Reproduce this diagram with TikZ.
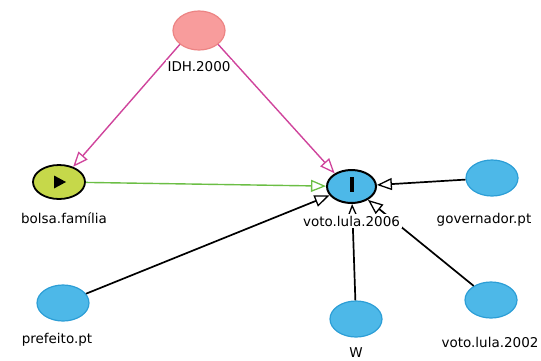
\documentclass[tikz,border=0pt]{standalone}
\usepackage{fontspec}
\setmainfont{DejaVu Sans}
\usetikzlibrary{shapes.geometric,arrows.meta}
\definecolor{pinkfill}{HTML}{F89C9C}
\definecolor{pinkdraw}{HTML}{EC8484}
\definecolor{bluefill}{HTML}{4DB8E8}
\definecolor{bluedraw}{HTML}{2C9ED6}
\definecolor{limefill}{HTML}{C6D84A}
\definecolor{magline}{HTML}{CF449C}
\definecolor{greenline}{HTML}{6BBE45}
\tikzset{
  var/.style={ellipse, minimum width=52pt, minimum height=36pt, inner sep=0pt, line width=1.2pt},
  latent/.style={var, fill=pinkfill, draw=pinkdraw, minimum height=39pt},
  covar/.style={var, fill=bluefill, draw=bluedraw},
  expo/.style={var, fill=limefill, draw=black, line width=1.8pt, minimum height=34pt},
  outc/.style={var, fill=bluefill, draw=black, line width=2pt, minimum width=49pt, minimum height=33pt},
  lbl/.style={fill=white, inner sep=2pt, font=\fontsize{13.5}{15}\selectfont},
  tip/.style={-{Triangle[open, length=15pt, width=12pt, line width=1.3pt]}},
  edge/.style={tip, line width=1.4pt},
  bedge/.style={tip, line width=1.7pt, black},
}
\begin{document}
\begin{tikzpicture}[x=1pt, y=-1pt]
\useasboundingbox (0,0) rectangle (541,360);
\clip (0,0) rectangle (541,360);

% variables
\node[latent] (idh) at (199,30.5) {};
\node[expo] (bolsa) at (59,182) {};
\node[outc] (voto06) at (351.5,186.5) {};
\node[covar] (gov) at (492,178) {};
\node[covar] (pref) at (63,303) {};
\node[covar] (w) at (356,319) {};
\node[covar] (voto02) at (491,300) {};

% exposure and outcome markers
\fill (54,175.5) -- (54,188.5) -- (66,182) -- cycle;
\fill (350,177) rectangle (354,192);

% directed edges
\draw[edge, magline] (idh.216) -- (bolsa.47);
\draw[edge, magline] (idh.324) -- (voto06.142);
\draw[edge, greenline] (bolsa) -- (voto06);
\draw[bedge] (gov) -- (voto06);
\draw[bedge] (pref) -- (voto06);
\draw[bedge] (w) -- (voto06);
\draw[bedge] (voto02) -- (voto06);

% labels
\node[lbl] (lidh) at (199,67) {IDH.2000};
\node[lbl] (lbolsa) at (64,218) {bolsa.família};
\node[lbl] (lvoto06) at (351.5,221) {voto.lula.2006};
\node[lbl] (lgov) at (484,220) {governador.pt};
\node[lbl] (lpref) at (57,340) {prefeito.pt};
\node[lbl] (lw) at (356,353) {W};
\node[lbl] (lvoto02) at (490,342) {voto.lula.2002};
\end{tikzpicture}
\end{document}
